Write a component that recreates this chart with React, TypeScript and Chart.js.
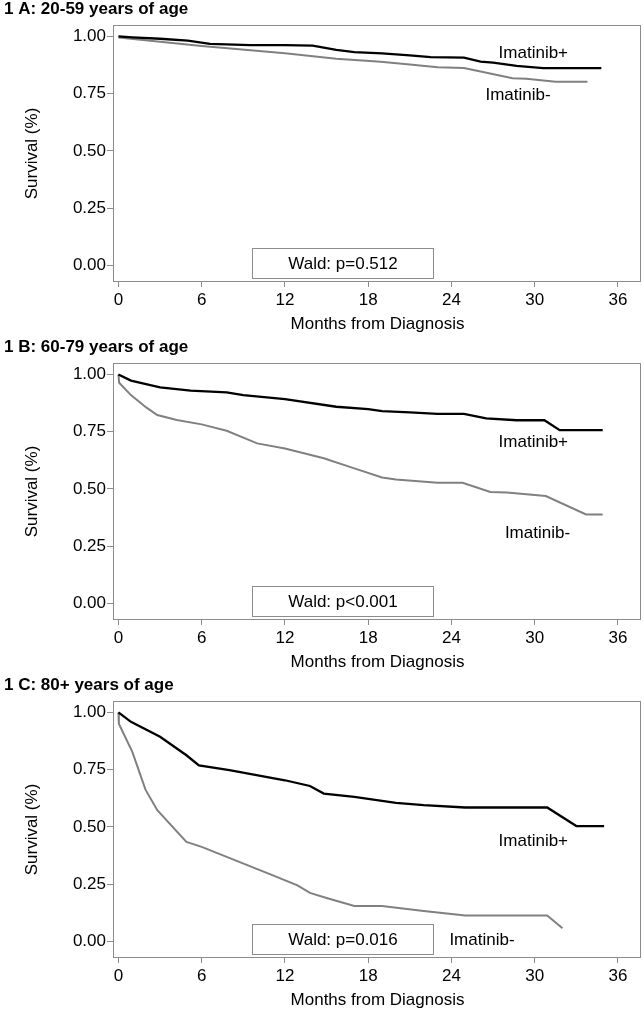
import React, { useEffect, useRef } from 'react';
import { Chart, registerables } from 'chart.js';

Chart.register(...registerables);

// ---------- data ----------
const xTicks = [0, 6, 12, 18, 24, 30, 36];
const yTicks = [0, 0.25, 0.5, 0.75, 1.0];
const yTickLabels = ['0.00', '0.25', '0.50', '0.75', '1.00'];

const panelTitles = ['1 A: 20-59 years of age', '1 B: 60-79 years of age', '1 C: 80+ years of age'];
const waldLabels = ['Wald: p=0.512', 'Wald: p<0.001', 'Wald: p=0.016'];
const seriesNames = ['Imatinib+', 'Imatinib-'];
const xTitle = 'Months from Diagnosis';
const yTitle = 'Survival (%)';

// Panel A: 20-59 years
const aPlusMonths = [0, 1, 3, 5, 6.6, 9.5, 12, 14, 15.7, 17, 19, 21, 22.5, 24.9, 26.1, 27, 28.7, 30.6, 34.8];
const aPlusSurv = [1.0, 0.996, 0.99, 0.982, 0.968, 0.962, 0.962, 0.96, 0.941, 0.932, 0.926, 0.917, 0.91, 0.908, 0.89, 0.886, 0.872, 0.862, 0.862];
const aMinusMonths = [0, 6, 12, 15.7, 18.9, 21, 23, 24.9, 26.1, 28.4, 29.4, 31.5, 33.8];
const aMinusSurv = [0.995, 0.958, 0.927, 0.903, 0.89, 0.878, 0.866, 0.862, 0.847, 0.818, 0.815, 0.802, 0.802];

// Panel B: 60-79 years
const bPlusMonths = [0, 0.9, 3, 5.2, 7.8, 9, 12, 15.7, 18, 19, 21, 23, 24.9, 26.5, 28.7, 30.7, 31.8, 34.9];
const bPlusSurv = [1.0, 0.973, 0.944, 0.929, 0.922, 0.91, 0.892, 0.859, 0.849, 0.84, 0.834, 0.828, 0.828, 0.808, 0.8, 0.8, 0.757, 0.757];
const bMinusMonths = [0, 0.05, 0.9, 2, 2.8, 4.2, 6, 7.8, 10, 12, 14.8, 17, 19, 20, 23, 24.8, 26.8, 28, 30.8, 33.7, 34.9];
const bMinusSurv = [1.0, 0.964, 0.91, 0.856, 0.823, 0.801, 0.782, 0.754, 0.699, 0.677, 0.634, 0.59, 0.55, 0.541, 0.527, 0.527, 0.487, 0.485, 0.469, 0.389, 0.389];

// Panel C: 80+ years
const cPlusMonths = [0, 0.9, 3, 4.9, 5.8, 8, 12, 13.8, 14.8, 17, 20, 22, 25, 30.9, 33, 35];
const cPlusSurv = [1.0, 0.959, 0.894, 0.813, 0.769, 0.748, 0.704, 0.679, 0.646, 0.631, 0.605, 0.595, 0.585, 0.585, 0.504, 0.504];
const cMinusMonths = [0, 0.03, 1, 1.95, 2.8, 4.9, 6, 11, 12.9, 13.8, 15, 17, 19, 22, 25, 30.9, 32];
const cMinusSurv = [1.0, 0.951, 0.828, 0.663, 0.573, 0.435, 0.413, 0.292, 0.245, 0.212, 0.19, 0.155, 0.155, 0.133, 0.114, 0.114, 0.058];

const panels = [
  { plusX: aPlusMonths, plusY: aPlusSurv, minusX: aMinusMonths, minusY: aMinusSurv },
  { plusX: bPlusMonths, plusY: bPlusSurv, minusX: bMinusMonths, minusY: bMinusSurv },
  { plusX: cPlusMonths, plusY: cPlusSurv, minusX: cMinusMonths, minusY: cMinusSurv },
];

// label anchor positions (data coordinates)
const plusLabelPos = [[29.9, 0.927], [29.9, 0.703], [29.9, 0.438]];
const minusLabelPos = [[28.8, 0.745], [30.2, 0.306], [26.2, 0.005]];
const waldBox = { x0: 9.6, x1: 22.7, y0: 0.076, y1: -0.055 };

// ---------- style ----------
const FONT = "'Liberation Sans', Arial, sans-serif";
const FS = 17;
const PANEL_W = 644;
const PANEL_H = 338;
const AXIS_GRAY = '#8c8c8c';

function Panel({ index }: { index: number }) {
  const ref = useRef<HTMLCanvasElement | null>(null);
  useEffect(() => {
    const p = panels[index];
    const toPts = (xs: number[], ys: number[]) => xs.map((x, i) => ({ x, y: ys[i] }));
    const overlay = {
      id: 'overlay',
      afterDraw(chart: any) {
        const { ctx, chartArea } = chart;
        const xs = chart.scales.x;
        const ys = chart.scales.y;
        ctx.save();
        // frame
        ctx.strokeStyle = AXIS_GRAY;
        ctx.lineWidth = 1;
        const l = Math.round(chartArea.left) - 0.5;
        const t = Math.round(chartArea.top) + 0.5;
        const r = Math.round(chartArea.right) - 0.5;
        const b = Math.round(chartArea.bottom) - 0.5;
        ctx.strokeRect(l, t, r - l, b - t);
        // panel title
        ctx.fillStyle = '#000';
        ctx.font = `bold ${FS}px ${FONT}`;
        ctx.textAlign = 'left';
        ctx.textBaseline = 'middle';
        ctx.fillText(panelTitles[index], 4, 9.5);
        // series labels
        ctx.font = `${FS}px ${FONT}`;
        ctx.textAlign = 'center';
        const pl = plusLabelPos[index];
        const ml = minusLabelPos[index];
        ctx.fillText(seriesNames[0], xs.getPixelForValue(pl[0]), ys.getPixelForValue(pl[1]));
        ctx.fillText(seriesNames[1], xs.getPixelForValue(ml[0]), ys.getPixelForValue(ml[1]));
        // Wald box
        const bx0 = Math.round(xs.getPixelForValue(waldBox.x0)) + 0.5;
        const bx1 = Math.round(xs.getPixelForValue(waldBox.x1)) + 0.5;
        const by0 = Math.round(ys.getPixelForValue(waldBox.y0)) + 0.5;
        const by1 = Math.round(ys.getPixelForValue(waldBox.y1)) + 0.5;
        ctx.fillStyle = '#fff';
        ctx.fillRect(bx0, by0, bx1 - bx0, by1 - by0);
        ctx.strokeStyle = AXIS_GRAY;
        ctx.strokeRect(bx0, by0, bx1 - bx0, by1 - by0);
        ctx.fillStyle = '#000';
        ctx.fillText(waldLabels[index], (bx0 + bx1) / 2, (by0 + by1) / 2 + 0.5);
        ctx.restore();
      },
    };
    const chart = new Chart(ref.current as HTMLCanvasElement, {
      type: 'line',
      data: {
        datasets: [
          {
            label: seriesNames[0],
            data: toPts(p.plusX, p.plusY),
            borderColor: '#000',
            borderWidth: 2.3,
            pointRadius: 0,
            tension: 0,
            fill: false,
          },
          {
            label: seriesNames[1],
            data: toPts(p.minusX, p.minusY),
            borderColor: '#808080',
            borderWidth: 2,
            pointRadius: 0,
            tension: 0,
            fill: false,
          },
        ],
      },
      options: {
        responsive: false,
        maintainAspectRatio: false,
        animation: false,
        events: [],
        layout: { padding: { left: 0, top: 25, right: 3, bottom: 0 } },
        plugins: {
          legend: { display: false },
          tooltip: { enabled: false },
          title: { display: false },
        },
        scales: {
          x: {
            type: 'linear',
            min: -0.32,
            max: 37.66,
            afterBuildTicks: (s: any) => {
              s.ticks = xTicks.map((v) => ({ value: v }));
            },
            afterFit: (s: any) => {
              s.height = 56;
            },
            grid: { drawOnChartArea: false, drawTicks: true, tickLength: 5, color: AXIS_GRAY },
            border: { display: false },
            ticks: {
              color: '#000',
              font: { family: FONT, size: FS },
              padding: 3,
              maxRotation: 0,
              autoSkip: false,
              callback: (v: any) => String(v),
            },
            title: {
              display: true,
              text: xTitle,
              color: '#000',
              font: { family: FONT, size: FS },
              padding: { top: 0, bottom: 3 },
            },
          },
          y: {
            type: 'linear',
            min: -0.072,
            max: 1.05,
            afterBuildTicks: (s: any) => {
              s.ticks = yTicks.map((v) => ({ value: v }));
            },
            afterFit: (s: any) => {
              s.width = 114;
            },
            grid: { drawOnChartArea: false, drawTicks: true, tickLength: 7, color: AXIS_GRAY },
            border: { display: false },
            ticks: {
              color: '#000',
              font: { family: FONT, size: FS },
              padding: 1,
              callback: (_v: any, i: number) => yTickLabels[i],
            },
            title: {
              display: true,
              text: yTitle,
              color: '#000',
              font: { family: FONT, size: FS },
              padding: { top: 22, bottom: 0 },
            },
          },
        },
      },
      plugins: [overlay],
    });
    return () => chart.destroy();
  }, [index]);
  return (
    <canvas
      ref={ref}
      width={PANEL_W}
      height={PANEL_H}
      style={{ position: 'absolute', left: 0, top: index * PANEL_H, width: PANEL_W, height: PANEL_H, display: 'block' }}
    />
  );
}

export default function App() {
  useEffect(() => {
    document.body.style.margin = '0';
    document.body.style.overflow = 'hidden';
    document.body.style.background = '#fff';
  }, []);
  return (
    <div style={{ position: 'relative', width: 644, height: 1013, overflow: 'hidden', background: '#fff' }}>
      <Panel index={0} />
      <Panel index={1} />
      <Panel index={2} />
    </div>
  );
}
